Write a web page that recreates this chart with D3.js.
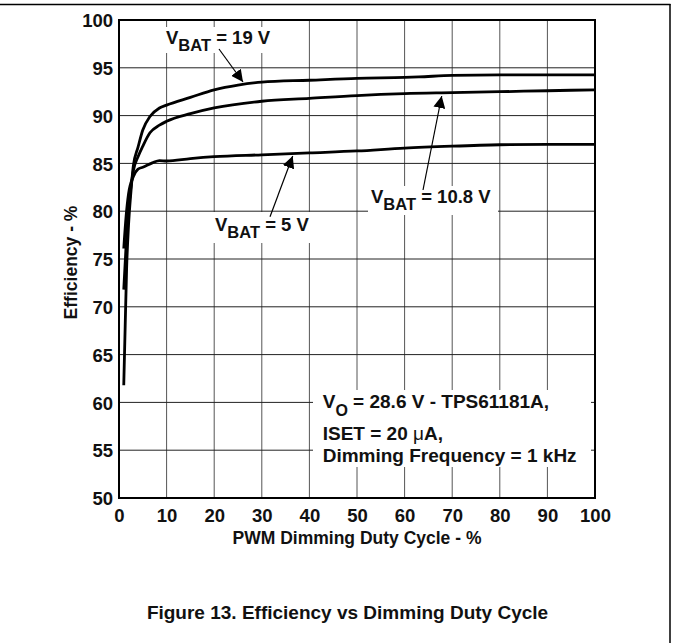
<!DOCTYPE html>
<html><head><meta charset="utf-8">
<script src="https://cdn.jsdelivr.net/npm/d3@7"></script>
<style>
html,body{margin:0;padding:0;background:#fff;}
text{font-family:"Liberation Sans",Arial,Helvetica,sans-serif;font-weight:bold;fill:#111;}
</style></head>
<body><svg id="chart" width="673" height="643"></svg>
<script>
// ---- data ----
const xTicks = [0,10,20,30,40,50,60,70,80,90,100];
const yTicks = [50,55,60,65,70,75,80,85,90,95,100];
const duty19 = [1,1.3,1.6,2,2.5,3,4,5,6.5,8.5,10,15,20,25,30,40,50,60,63,70,80,90,100];
const eff19  = [61.8,68,74,78.5,82,84.7,86.7,88.5,89.9,90.8,91.1,91.9,92.7,93.2,93.5,93.7,93.9,94.0,94.05,94.2,94.25,94.25,94.25];
const duty108 = [1,1.5,2,3,4,5,6.5,8.5,10,15,20,30,40,50,60,70,80,90,100];
const eff108  = [71.8,76.5,80,84.2,85.7,86.8,88.2,89.0,89.4,90.2,90.8,91.5,91.8,92.1,92.3,92.4,92.5,92.6,92.7];
const duty5 = [1,1.5,2,3,4,5,7,8.5,10,15,20,30,40,50,60,70,80,90,100];
const eff5  = [76.1,79.5,81.8,83.6,84.4,84.6,85.05,85.3,85.25,85.5,85.7,85.9,86.1,86.3,86.6,86.8,86.95,87.0,87.0];
const xTitle = "PWM Dimming Duty Cycle - %";
const yTitle = "Efficiency - %";
const caption = "Figure 13. Efficiency vs Dimming Duty Cycle";

const svg = d3.select("#chart");
const x = d3.scaleLinear().domain([0,100]).range([119,595]);
const y = d3.scaleLinear().domain([50,100]).range([498,20]);

svg.append("rect").attr("width",673).attr("height",643).attr("fill","#fff");
// page frame
svg.append("line").attr("x1",0).attr("x2",670.5).attr("y1",4.5).attr("y2",4.5).attr("stroke","#000").attr("stroke-width",1.5);
svg.append("line").attr("x1",670).attr("x2",670).attr("y1",4).attr("y2",643).attr("stroke","#000").attr("stroke-width",1.5);

// grid
const g = svg.append("g");
g.selectAll(".vg").data(xTicks.slice(1,-1)).join("line")
 .attr("x1",d=>x(d)).attr("x2",d=>x(d)).attr("y1",y(100)).attr("y2",y(50))
 .attr("stroke","#555").attr("stroke-width",1);
g.selectAll(".hg").data(yTicks.slice(1,-1)).join("line")
 .attr("y1",d=>y(d)).attr("y2",d=>y(d)).attr("x1",x(0)).attr("x2",x(100))
 .attr("stroke","#222").attr("stroke-width",1);

// white label boxes
const boxes = [[160,27,122,26],[210,212,106,31],[368,186,130,29],[313,390,278,77]];
svg.selectAll(".box").data(boxes).join("rect")
 .attr("x",d=>d[0]).attr("y",d=>d[1]).attr("width",d=>d[2]).attr("height",d=>d[3]).attr("fill","#fff");

// curves
const line = d3.line().x(d=>x(d[0])).y(d=>y(d[1])).curve(d3.curveMonotoneX);
[[duty19,eff19],[duty108,eff108],[duty5,eff5]].forEach(([dx,dy])=>{
  svg.append("path").datum(d3.zip(dx,dy)).attr("d",line)
   .attr("fill","none").attr("stroke","#000").attr("stroke-width",2.8).attr("stroke-linejoin","round");
});

// plot border
svg.append("rect").attr("x",x(0)).attr("y",y(100)).attr("width",x(100)-x(0)).attr("height",y(50)-y(100))
 .attr("fill","none").attr("stroke","#000").attr("stroke-width",2);

// axes tick labels
const yAxis = d3.axisLeft(y).tickValues(yTicks).tickSize(0).tickPadding(6);
const ya = svg.append("g").attr("transform",`translate(${x(0)},0)`).call(yAxis);
ya.select(".domain").remove();
ya.selectAll("text").style("font-size","18.5px").style("font-family","Liberation Sans, Arial, sans-serif").style("font-weight","bold").attr("fill","#111").attr("dy","0.36em");
const xAxis = d3.axisBottom(x).tickValues(xTicks).tickSize(0).tickPadding(11);
const xa = svg.append("g").attr("transform",`translate(0,${y(50)})`).call(xAxis);
xa.select(".domain").remove();
xa.selectAll("text").style("font-size","18.5px").style("font-family","Liberation Sans, Arial, sans-serif").style("font-weight","bold").attr("fill","#111");

svg.append("text").attr("x",357).attr("y",544).attr("text-anchor","middle").style("font-size","17.5px").text(xTitle);
svg.append("text").attr("transform","translate(77,262.5) rotate(-90)").attr("text-anchor","middle").style("font-size","17.5px").text(yTitle);
svg.append("text").attr("x",347.5).attr("y",619).attr("text-anchor","middle").style("font-size","19px").text(caption);

// VBAT labels
function vbat(xp, yp, val){
  const t = svg.append("text").attr("x",xp).attr("y",yp).style("font-size","18.5px");
  t.append("tspan").text("V");
  t.append("tspan").attr("dy",6.5).style("font-size","16.5px").text("BAT");
  t.append("tspan").attr("dy",-6.5).text(" = "+val);
}
vbat(166,44.3,"19 V");
vbat(215,231,"5 V");
vbat(371,203.3,"10.8 V");

// annotation
const a1 = svg.append("text").attr("x",322.7).attr("y",408.3).style("font-size","19px");
a1.append("tspan").text("V");
a1.append("tspan").attr("dy",8).style("font-size","16px").text("O");
a1.append("tspan").attr("dy",-8).text(" = 28.6 V - TPS61181A,");
const a2 = svg.append("text").attr("x",322.7).attr("y",440).style("font-size","19px");
a2.append("tspan").text("ISET = 20 ");
a2.append("tspan").style("font-weight","normal").text("μ");
a2.append("tspan").text("A,");
svg.append("text").attr("x",322.7).attr("y",461.7).style("font-size","19px").text("Dimming Frequency = 1 kHz");

// arrows
svg.append("defs").append("marker").attr("id","ah").attr("viewBox","0 0 10 10").attr("refX",10).attr("refY",5)
 .attr("markerWidth",12).attr("markerHeight",12).attr("markerUnits","userSpaceOnUse").attr("orient","auto")
 .append("path").attr("d","M0,0 L10,5 L0,10 Z").attr("fill","#000");
const arrows = [[219,49,243,82],[270,216.7,292.7,156],[423,190,441.7,96]];
svg.selectAll(".arr").data(arrows).join("line")
 .attr("x1",d=>d[0]).attr("y1",d=>d[1]).attr("x2",d=>d[2]).attr("y2",d=>d[3])
 .attr("stroke","#000").attr("stroke-width",1.2).attr("marker-end","url(#ah)");
</script></body></html>
